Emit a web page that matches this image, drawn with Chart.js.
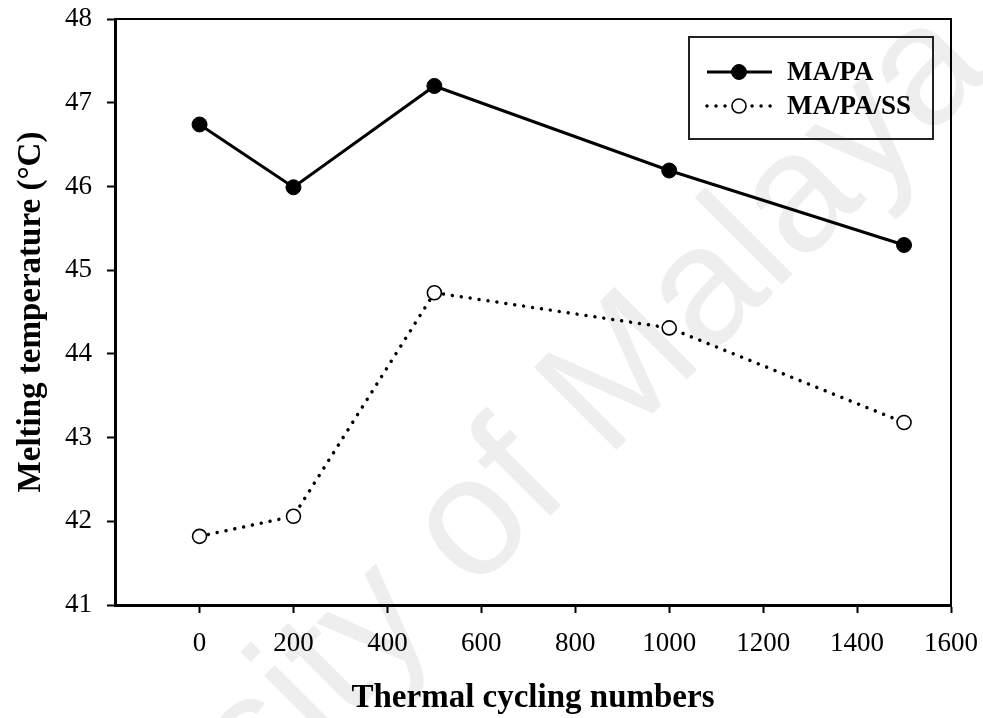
<!DOCTYPE html>
<html>
<head>
<meta charset="utf-8">
<script src="https://cdn.jsdelivr.net/npm/chart.js@4.4.1/dist/chart.umd.min.js"></script>
<style>
  html, body { margin: 0; padding: 0; background: #fff; }
  #wrap { width: 983px; height: 718px; }
</style>
</head>
<body>
<div id="wrap"><canvas id="c" width="983" height="718"></canvas></div>
<script>
// Thermal cycling numbers (x) and melting temperatures (°C) of both composites
const cycles = [0, 200, 500, 1000, 1500];
const maPa = [46.74, 45.99, 47.20, 46.19, 45.30];
const maPaSs = [41.82, 42.06, 44.73, 44.31, 43.18];
const xTickValues = [0, 200, 400, 600, 800, 1000, 1200, 1400, 1600];
const yTickValues = [41, 42, 43, 44, 45, 46, 47, 48];
const seriesNames = ['MA/PA', 'MA/PA/SS'];

const serif = '"Liberation Serif", "Times New Roman", serif';

// faint diagonal watermark behind the plot
const watermark = {
  id: 'watermark',
  beforeDraw(chart) {
    const ctx = chart.ctx;
    ctx.save();
    ctx.translate(961, 39);
    ctx.rotate(-45 * Math.PI / 180);
    ctx.font = '170px "Liberation Sans", Arial, sans-serif';
    ctx.fillStyle = '#eeeeee';
    ctx.textAlign = 'right';
    ctx.textBaseline = 'middle';
    ctx.fillText('University of Malaya', 0, 0);
    ctx.restore();
  }
};

// top and right edges of the plot frame
const frame = {
  id: 'frame',
  afterDraw(chart) {
    const { ctx, chartArea: a } = chart;
    ctx.save();
    ctx.strokeStyle = '#000';
    ctx.lineWidth = 2;
    ctx.beginPath();
    ctx.moveTo(a.left, a.top);
    ctx.lineTo(a.right, a.top);
    ctx.lineTo(a.right, a.bottom);
    ctx.stroke();
    ctx.restore();
  }
};

// boxed legend with line + marker samples
const boxLegend = {
  id: 'boxLegend',
  afterDraw(chart) {
    const ctx = chart.ctx;
    const box = { x: 689, y: 37, w: 244, h: 102 };
    ctx.save();
    ctx.strokeStyle = '#222';
    ctx.lineWidth = 2;
    ctx.strokeRect(box.x, box.y, box.w, box.h);
    const rows = [72, 106];
    chart.data.datasets.forEach((ds, i) => {
      const y = rows[i];
      ctx.save();
      ctx.strokeStyle = ds.borderColor;
      ctx.lineWidth = ds.borderWidth;
      ctx.lineCap = ds.borderCapStyle || 'butt';
      ctx.setLineDash(ds.borderDash || []);
      ctx.beginPath();
      ctx.moveTo(707, y);
      ctx.lineTo(772, y);
      ctx.stroke();
      ctx.restore();
      ctx.beginPath();
      ctx.arc(739, y, ds.pointRadius, 0, Math.PI * 2);
      ctx.fillStyle = ds.pointBackgroundColor;
      ctx.fill();
      ctx.lineWidth = ds.pointBorderWidth;
      ctx.strokeStyle = ds.pointBorderColor;
      ctx.stroke();
      ctx.fillStyle = '#000';
      ctx.font = 'bold 27px ' + serif;
      ctx.textAlign = 'left';
      ctx.textBaseline = 'middle';
      ctx.fillText(ds.label, 787, y + 1);
    });
    ctx.restore();
  }
};

const toPoints = (ys) => cycles.map((x, i) => ({ x, y: ys[i] }));

new Chart(document.getElementById('c'), {
  type: 'line',
  data: {
    datasets: [
      {
        label: seriesNames[0],
        data: toPoints(maPa),
        borderColor: '#000',
        borderWidth: 3,
        pointRadius: 7.5,
        pointBackgroundColor: '#000',
        pointBorderColor: '#000',
        pointBorderWidth: 1,
        tension: 0
      },
      {
        label: seriesNames[1],
        data: toPoints(maPaSs),
        borderColor: '#000',
        borderWidth: 3.5,
        borderDash: [0.01, 9],
        borderCapStyle: 'round',
        pointRadius: 7,
        pointBackgroundColor: '#fff',
        pointBorderColor: '#000',
        pointBorderWidth: 1.6,
        tension: 0
      }
    ]
  },
  options: {
    responsive: false,
    animation: false,
    layout: { padding: { top: 19, right: 32, left: 0, bottom: 0 } },
    plugins: { legend: { display: false }, tooltip: { enabled: false } },
    scales: {
      x: {
        type: 'linear',
        min: -180,
        max: 1600,
        afterFit(s) { s.height = 113; s.paddingLeft = 0; s.paddingRight = 0; },
        afterBuildTicks(s) { s.ticks = xTickValues.map(v => ({ value: v })); },
        grid: { drawOnChartArea: false, drawTicks: true, tickLength: 8, tickWidth: 2, tickColor: '#000' },
        border: { display: true, color: '#000', width: 3 },
        ticks: {
          color: '#000', font: { family: serif, size: 27 }, padding: 15,
          maxRotation: 0, autoSkip: false, callback: (v) => String(v)
        },
        title: {
          display: true,
          text: 'Thermal cycling numbers',
          color: '#000',
          font: { family: serif, size: 33, weight: 'bold' },
          padding: { top: 0, bottom: 0 }
        }
      },
      y: {
        min: 41,
        max: 48,
        afterFit(s) { s.width = 115; s.paddingTop = 0; s.paddingBottom = 0; },
        afterBuildTicks(s) { s.ticks = yTickValues.map(v => ({ value: v })); },
        grid: { drawOnChartArea: false, drawTicks: true, tickLength: 8, tickWidth: 2, tickColor: '#000' },
        border: { display: true, color: '#000', width: 3 },
        ticks: { color: '#000', font: { family: serif, size: 27 }, padding: 15, callback: (v) => String(v) },
        title: {
          display: true,
          text: 'Melting temperature (°C)',
          color: '#000',
          font: { family: serif, size: 33, weight: 'bold' },
          padding: { top: 12, bottom: 0 }
        }
      }
    }
  },
  plugins: [watermark, frame, boxLegend]
});
</script>
</body>
</html>
